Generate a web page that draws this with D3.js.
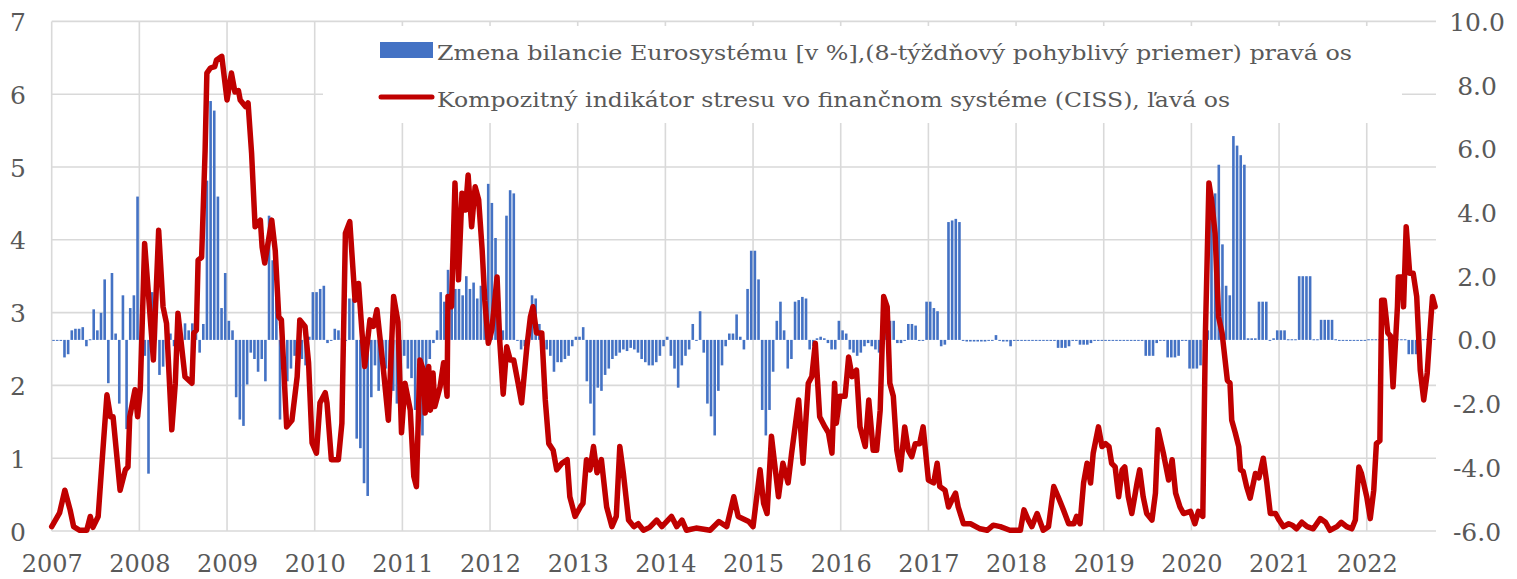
<!DOCTYPE html>
<html>
<head>
<meta charset="utf-8">
<script src="https://cdn.jsdelivr.net/npm/d3@7"></script>
<style>
  body { margin: 0; background: #fff; }
  svg { display: block; }
  text { font-family: "DejaVu Serif", serif; fill: #595959; }
</style>
</head>
<body>
<div id="chart"></div>
<script>
// tick labels
const yearTicks = [2007,2008,2009,2010,2011,2012,2013,2014,2015,2016,2017,2018,2019,2020,2021,2022]
const leftTicks = [0,1,2,3,4,5,6,7]
const rightTicks = [-6,-4,-2,0,2,4,6,8,10]
const legendLabels = [
  "Zmena bilancie Eurosystému [v %],(8-týždňový pohyblivý priemer) pravá os",
  "Kompozitný indikátor stresu vo finančnom systéme (CISS), ľavá os"
]

// change of Eurosystem balance sheet, % (right axis), two values per month from Jan 2007
const barStartYear = 2007
const bilancia = [
  0,0,0,-0.55,-0.45,0.3,0.35,0.35,0.4,-0.2,0.02,0.96,0.3,0.85,1.9,-1.36,2.1,0.2,-2.0,1.4,-2.8,1.0,1.4,4.5,
  0.3,-0.5,-4.2,1.5,1.2,-1.1,-0.84,0.4,0.2,-0.2,0.1,0.1,0.52,0.3,0.52,0.52,-0.4,0.5,5.0,7.5,7.2,4.5,1.0,2.1,
  0.6,0.3,-1.8,-2.5,-2.7,-1.4,-0.4,-0.6,-1.0,-0.6,-1.3,3.9,2.5,1.8,-2.5,-1.2,-1.3,-0.9,-0.5,-0.3,-0.6,-0.8,0.1,1.5,
  1.5,1.6,1.7,-0.1,0.0,0.35,0.3,0.05,0.0,1.3,1.3,-3.1,-3.4,-4.5,-4.9,-1.8,-0.8,-1.6,-1.0,-0.9,-1.2,-1.6,-2.0,-2.8,
  -0.5,-0.9,-1.2,-2.2,-1.6,-3.0,-1.0,-0.6,-0.1,0.3,1.5,1.2,2.2,1.2,1.6,1.6,1.4,2.0,1.6,1.8,1.3,1.7,2.0,4.9,
  4.3,3.2,1.2,0.3,3.9,4.7,4.6,0.0,-0.3,-0.2,0.4,1.4,1.3,0.5,-0.1,-0.3,-0.5,-1.0,-0.7,-0.7,-0.6,-0.5,-0.2,0.1,
  0.1,0.4,-1.3,-2.0,-3.0,-1.5,-1.6,-1.1,-0.9,-0.6,-0.5,-0.4,-0.3,-0.35,-0.25,-0.3,-0.4,-0.6,-0.7,-0.8,-0.8,-0.7,-0.5,-0.2,
  0.1,-0.5,-0.9,-1.5,-0.8,-0.5,-0.3,0.5,0.0,0.9,-0.4,-2.0,-2.4,-3.0,-1.6,-0.8,-0.2,0.2,0.2,0.8,0.1,-0.3,1.6,2.8,
  2.8,1.9,-2.2,-3.0,-2.2,-1.0,0.6,1.2,0.3,-0.9,-0.6,1.2,1.25,1.35,1.3,-0.3,-0.2,0.05,0.1,0.05,-0.1,-0.3,-0.3,0.6,
  0.3,0.2,-0.3,-0.4,-0.5,-0.4,-0.2,-0.1,-0.2,-0.3,-0.4,0.7,0.65,0.6,0.6,-0.1,-0.1,0.0,0.5,0.5,0.45,0.0,0.0,1.2,
  1.2,1.0,0.9,-0.2,-0.15,3.7,3.75,3.8,3.7,0.0,-0.05,-0.05,-0.05,-0.05,-0.05,-0.05,-0.03,-0.03,0.15,-0.03,-0.05,-0.05,-0.2,-0.03,
  -0.03,-0.03,-0.03,-0.03,-0.03,-0.03,-0.03,-0.03,-0.03,-0.03,-0.03,-0.25,-0.25,-0.25,-0.2,-0.02,-0.02,-0.15,-0.15,-0.15,-0.1,-0.02,-0.02,-0.02,
  -0.03,-0.03,-0.03,-0.03,-0.03,-0.03,-0.03,-0.03,-0.03,-0.03,-0.03,-0.5,-0.5,-0.5,-0.1,0.0,-0.02,-0.55,-0.55,-0.55,-0.5,0.0,-0.02,-0.9,
  -0.9,-0.9,-0.8,-0.2,0.3,3.8,4.6,5.5,3.0,1.7,1.4,6.4,6.1,5.8,5.5,0.05,0.05,0.05,1.2,1.2,1.2,0.0,0.05,0.3,
  0.3,0.3,0.02,0.02,0.02,2.0,2.0,2.0,2.0,0.02,0.02,0.63,0.63,0.63,0.63,0.02,-0.02,-0.02,-0.02,-0.02,-0.02,-0.02,-0.02,-0.02,
  0.02,0.02,0.02,0.02,0.02,0.02,0.02,0.02,0.02,0.02,0.02,-0.45,-0.45,-0.45,-0.45,0.02,0.03,0.03,0.03
]

// CISS (left axis), dates as decimal years
const cissDates = [
  2007.00,2007.09,2007.15,2007.21,2007.25,2007.32,2007.40,2007.44,2007.47,2007.53,2007.57,2007.63,2007.67,2007.70,2007.78,2007.84,2007.87,2007.89,2007.95,2007.98,
  2008.01,2008.06,2008.10,2008.16,2008.22,2008.27,2008.31,2008.37,2008.41,2008.44,2008.52,2008.60,2008.62,2008.65,2008.67,2008.71,2008.75,2008.77,2008.81,2008.86,2008.88,2008.94,
  2009.00,2009.05,2009.09,2009.13,2009.15,2009.21,2009.24,2009.28,2009.32,2009.38,2009.40,2009.43,2009.51,2009.55,2009.59,2009.62,2009.68,2009.74,2009.80,2009.83,2009.89,2009.93,2009.97,
  2010.02,2010.06,2010.12,2010.14,2010.19,2010.27,2010.31,2010.35,2010.40,2010.46,2010.50,2010.54,2010.57,2010.63,2010.67,2010.71,2010.78,2010.84,2010.90,2010.95,2010.99,
  2011.03,2011.09,2011.13,2011.16,2011.20,2011.24,2011.26,2011.30,2011.32,2011.35,2011.37,2011.43,2011.47,2011.51,2011.52,2011.56,2011.60,2011.64,2011.68,2011.72,2011.75,2011.79,2011.83,2011.87,2011.91,2011.94,2011.98,
  2012.02,2012.08,2012.11,2012.15,2012.19,2012.23,2012.27,2012.32,2012.36,2012.42,2012.46,2012.49,2012.53,2012.59,2012.63,2012.67,2012.72,2012.76,2012.82,2012.88,2012.91,2012.97,
  2013.03,2013.06,2013.10,2013.14,2013.18,2013.22,2013.27,2013.33,2013.39,2013.44,2013.48,2013.52,2013.58,2013.64,2013.69,2013.75,2013.82,2013.90,2013.96,
  2014.07,2014.13,2014.19,2014.24,2014.35,2014.51,2014.61,2014.70,2014.78,2014.83,2014.95,
  2015.00,2015.08,2015.12,2015.16,2015.21,2015.29,2015.34,2015.40,2015.44,2015.52,2015.57,2015.63,2015.67,2015.71,2015.76,2015.82,2015.86,2015.90,2015.93,2015.95,2015.99,
  2016.05,2016.09,2016.13,2016.18,2016.22,2016.28,2016.32,2016.37,2016.41,2016.45,2016.49,2016.53,2016.56,2016.60,2016.64,2016.68,2016.73,2016.77,2016.81,2016.85,2016.90,2016.94,
  2017.00,2017.06,2017.10,2017.13,2017.19,2017.23,2017.27,2017.31,2017.34,2017.40,2017.48,2017.59,2017.67,2017.74,2017.82,2017.93,
  2018.05,2018.09,2018.14,2018.18,2018.24,2018.31,2018.37,2018.43,2018.48,2018.54,2018.60,2018.66,2018.69,2018.73,2018.77,2018.81,2018.85,2018.88,2018.94,2018.98,
  2019.02,2019.06,2019.09,2019.13,2019.17,2019.21,2019.24,2019.28,2019.32,2019.38,2019.41,2019.45,2019.49,2019.55,2019.59,2019.62,2019.68,2019.74,2019.78,2019.82,2019.87,2019.91,2019.99,
  2020.04,2020.08,2020.13,2020.16,2020.20,2020.23,2020.27,2020.31,2020.35,2020.41,2020.44,2020.46,2020.50,2020.54,2020.56,2020.59,2020.63,2020.67,2020.73,2020.77,2020.82,2020.86,2020.90,2020.96,
  2021.00,2021.05,2021.11,2021.15,2021.20,2021.26,2021.32,2021.39,2021.47,2021.53,2021.58,2021.66,2021.71,2021.77,2021.83,2021.87,2021.91,2021.94,
  2022.00,2022.04,2022.08,2022.11,2022.15,2022.17,2022.20,2022.24,2022.27,2022.30,2022.35,2022.36,2022.40,2022.42,2022.45,2022.49,2022.53,2022.57,2022.61,2022.65,2022.69,2022.72,2022.75,2022.78
]
const cissValues = [
  0.06,0.25,0.56,0.29,0.06,0.01,0.01,0.2,0.05,0.2,0.88,1.87,1.57,1.57,0.56,0.84,0.88,1.57,1.94,1.57,
  1.94,3.95,3.31,2.35,4.13,3.08,2.85,1.39,2.03,2.99,2.12,2.03,2.72,2.76,3.72,3.76,5.23,6.29,6.36,6.38,6.47,6.52,
  5.92,6.29,6.03,6.05,5.92,5.83,5.88,5.19,4.18,4.27,3.9,3.68,4.27,3.85,2.94,2.9,1.43,1.52,2.12,2.9,2.81,2.31,1.21,
  1.07,1.76,1.9,1.76,0.98,0.98,1.48,4.09,4.25,3.17,3.4,2.72,2.26,2.9,2.81,3.04,2.26,1.52,3.22,2.87,1.35,
  2.03,1.66,0.75,0.61,2.35,2.21,1.62,2.26,1.66,2.17,1.71,1.98,2.31,1.85,3.22,3.08,4.78,3.45,4.64,4.41,4.89,4.18,4.73,4.55,3.86,3.17,2.58,
  2.76,3.49,2.62,1.88,2.53,2.35,2.35,2.03,1.76,2.53,2.94,3.08,2.72,2.72,1.8,1.2,1.11,0.84,0.93,0.98,0.47,0.2,
  0.33,0.38,0.98,0.84,1.16,0.8,0.98,0.33,0.06,0.2,1.16,0.8,0.15,0.06,0.1,0.01,0.05,0.15,0.06,
  0.2,0.06,0.15,0.01,0.04,0.01,0.13,0.06,0.47,0.2,0.13,
  0.06,0.84,0.38,0.24,1.3,0.47,0.93,0.66,1.07,1.8,0.93,2.03,2.12,2.58,1.57,1.43,1.35,1.07,2.03,1.48,1.85,
  1.85,2.39,2.12,2.21,1.43,1.16,1.8,1.11,1.11,1.66,3.22,3.08,2.03,1.85,1.11,0.84,1.43,1.11,1.02,1.2,1.2,1.43,
  0.7,0.66,0.93,0.61,0.56,0.33,0.43,0.52,0.33,0.1,0.1,0.03,0.01,0.08,0.06,0.01,
  0.01,0.29,0.15,0.06,0.24,0.01,0.06,0.61,0.47,0.29,0.1,0.1,0.2,0.1,0.66,0.93,0.66,1.07,1.43,1.16,
  1.2,1.16,0.93,0.88,0.47,0.84,0.88,0.47,0.24,0.66,0.84,0.47,0.24,0.15,0.52,1.39,1.07,0.7,0.98,0.52,0.33,0.24,0.27,
  0.1,0.27,0.2,2.72,4.78,4.55,4.09,2.94,2.72,2.07,2.03,1.52,1.35,1.16,0.84,0.82,0.61,0.45,0.79,0.73,1.0,0.66,0.24,0.24,
  0.15,0.06,0.1,0.08,0.03,0.12,0.06,0.03,0.17,0.12,0.01,0.06,0.12,0.06,0.03,0.15,0.88,0.79,
  0.47,0.17,0.56,1.2,1.24,3.17,3.17,2.72,2.68,1.98,3.08,3.49,3.49,3.08,4.18,3.54,3.54,3.22,2.21,1.8,2.17,2.72,3.22,3.08
]

const width = 1517, height = 579
const svg = d3.select("#chart").append("svg")
  .attr("width", width)
  .attr("height", height)

const x = d3.scaleLinear().domain([2007, 2022.79]).range([51.7, 1436])
const yL = d3.scaleLinear().domain([0, 7]).range([531, 21.4])
const yR = d3.scaleLinear().domain([-6, 10]).range([531, 21.4])

// gridlines
svg.append("g").selectAll("line").data(leftTicks).join("line")
  .attr("x1", x.range()[0]).attr("x2", x.range()[1])
  .attr("y1", d => yL(d)).attr("y2", d => yL(d))
  .attr("stroke", "#d9d9d9").attr("stroke-width", 1.6)
svg.append("g").selectAll("line").data(yearTicks).join("line")
  .attr("x1", d => x(d)).attr("x2", d => x(d))
  .attr("y1", yL(7)).attr("y2", yL(0))
  .attr("stroke", "#d9d9d9").attr("stroke-width", 1.6)

// legend box hides the grid behind it
svg.append("rect")
  .attr("x", 323).attr("y", 26).attr("width", 1079).attr("height", 97)
  .attr("fill", "#fff")

// bars
const barW = x(2007 + 1/24) - x(2007) - 1.05
svg.append("g").selectAll("rect").data(bilancia).join("rect")
  .attr("x", (d, i) => x(barStartYear + (i + 0.5) / 24) - barW / 2)
  .attr("width", barW)
  .attr("y", d => yR(Math.max(d, 0)))
  .attr("height", d => Math.max(1, Math.abs(yR(d) - yR(0))))
  .attr("fill", "#4472c4")

// CISS line
const line = d3.line()
  .x(i => x(cissDates[i]))
  .y(i => yL(cissValues[i]))
svg.append("path")
  .attr("d", line(d3.range(cissDates.length)))
  .attr("fill", "none")
  .attr("stroke", "#c00000")
  .attr("stroke-width", 5.5)
  .attr("stroke-linejoin", "round")
  .attr("stroke-linecap", "round")

// axes
const fs = 24
const axL = svg.append("g").attr("transform", "translate(26,0)")
  .call(d3.axisLeft(yL).tickValues(leftTicks).tickSize(0).tickPadding(0).tickFormat(d3.format("d")))
axL.select(".domain").remove()
axL.selectAll("text").attr("font-size", 25).attr("font-family", null).attr("dy", "0.36em")

const axR = svg.append("g").attr("transform", "translate(1477,0)")
  .call(d3.axisRight(yR).tickValues(rightTicks).tickSize(0).tickPadding(0).tickFormat(d => d.toFixed(1)))
axR.select(".domain").remove()
axR.selectAll("text").attr("font-size", 25).attr("font-family", null)
  .attr("text-anchor", "middle").attr("x", 0).attr("dy", "0.36em")

const axB = svg.append("g").attr("transform", "translate(0,531)")
  .call(d3.axisBottom(x).tickValues(yearTicks).tickSize(0).tickFormat(d3.format("d")))
axB.select(".domain").remove()
axB.selectAll("text").attr("font-size", fs).attr("font-family", null).attr("y", 41).attr("dy", 0)

// legend
const lg = svg.append("g")
lg.append("rect").attr("x", 380).attr("y", 42).attr("width", 53).attr("height", 16).attr("fill", "#4472c4")
lg.append("line").attr("x1", 381).attr("x2", 432).attr("y1", 97).attr("y2", 97)
  .attr("stroke", "#c00000").attr("stroke-width", 5).attr("stroke-linecap", "round")
const lw = [915, 793]
lg.selectAll("text").data(legendLabels).join("text")
  .attr("x", 437)
  .attr("y", (d, i) => 60 + i * 46.7)
  .attr("font-size", 21)
  .attr("textLength", (d, i) => lw[i])
  .attr("lengthAdjust", "spacingAndGlyphs")
  .text(d => d)
</script>
</body>
</html>
